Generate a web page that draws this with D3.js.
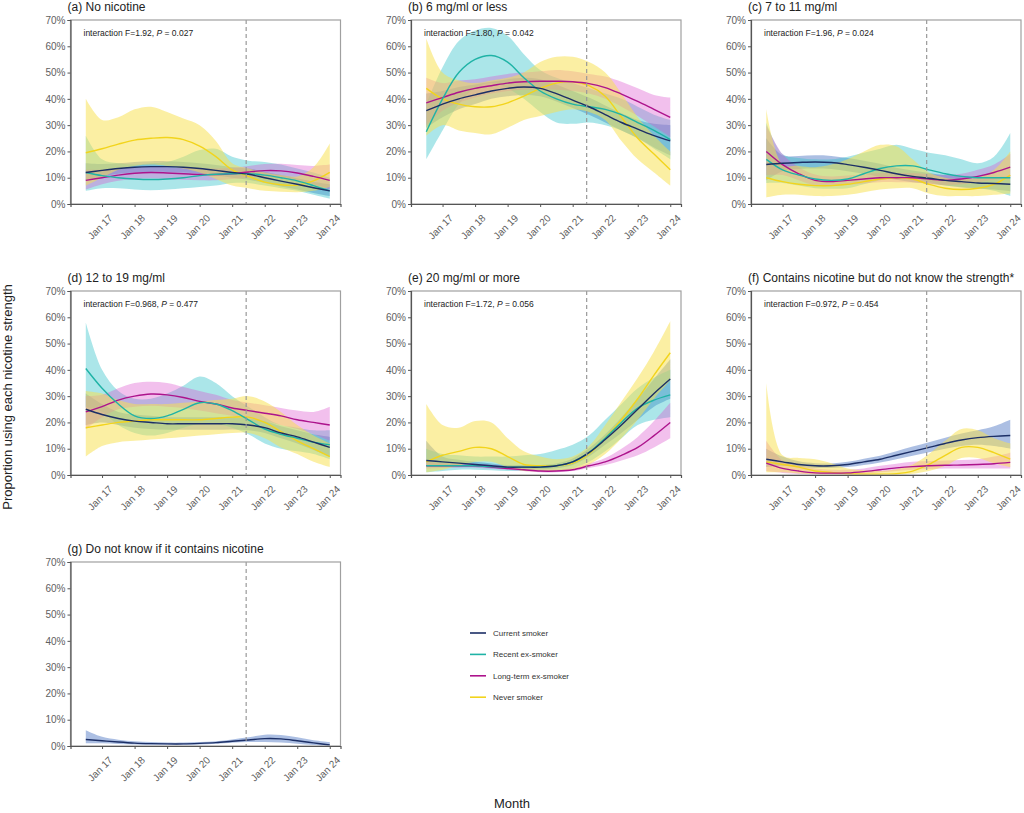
<!DOCTYPE html>
<html>
<head>
<meta charset="utf-8">
<script src="https://d3js.org/d3.v7.min.js"></script>
<style>
  body { margin: 0; background: #fff; }
  svg { display: block; font-family: "Liberation Sans", Arial, sans-serif; }
</style>
</head>
<body>
<div id="chart"></div>
<script>
// ---- data (proportions in %) ----
const months = [2016.5, 2017, 2017.5, 2018, 2018.5, 2019, 2019.5, 2020, 2020.5, 2021, 2021.5, 2022, 2022.5, 2023, 2023.5, 2024];
const tickYears = [2017, 2018, 2019, 2020, 2021, 2022, 2023, 2024];
const tickLabels = ['Jan 17', 'Jan 18', 'Jan 19', 'Jan 20', 'Jan 21', 'Jan 22', 'Jan 23', 'Jan 24'];
const yTicks = [0, 10, 20, 30, 40, 50, 60, 70];
const cutoff = 2021.43;

const groups = ['Current smoker', 'Recent ex-smoker', 'Long-term ex-smoker', 'Never smoker'];
const lineColors = ['#1c2f66', '#1fb3a6', '#ad138c', '#f2d41c'];
const bandColors = ['#3a67bd', '#2cc0c8', '#db4fcc', '#f8e04e'];
const bandAlpha = [0.42, 0.4, 0.36, 0.52];

const titles = ['(a) No nicotine', '(b) 6 mg/ml or less', '(c) 7 to 11 mg/ml', '(d) 12 to 19 mg/ml',
  '(e) 20 mg/ml or more', '(f) Contains nicotine but do not know the strength*', '(g) Do not know if it contains nicotine'];
const interactionF = ['1.92', '1.80', '1.96', '0.968', '1.72', '0.972', null];
const interactionP = ['0.027', '0.042', '0.024', '0.477', '0.056', '0.454', null];

// series order: current, recent, long-term, never (null = not shown)
const aMid = [
  [12, 12.8, 13.5, 14, 14.2, 14.2, 14, 13.5, 12.8, 12, 11.3, 10, 8.7, 7.5, 6.2, 5],
  [12, 10.8, 10, 9.5, 9.3, 9.5, 10, 10.8, 11.3, 11.5, 11.5, 11, 10, 8.8, 7, 5],
  [9, 10, 11, 11.7, 12, 11.8, 11.5, 11.2, 11.2, 11.5, 12.2, 12.7, 12.6, 11.8, 10.5, 9],
  [19.5, 21, 22.8, 24.3, 25, 25.3, 24.5, 22, 18, 13, 10.5, 8.3, 7.3, 7.2, 8.8, 12]];
const aLo = [
  [9, 10.5, 11.5, 12, 12.2, 12.2, 12, 11.5, 10.8, 10, 9.2, 8, 6.7, 5.5, 4.2, 3],
  [5, 6, 6, 5.5, 5.2, 5.5, 6, 6.5, 7, 8, 8, 7, 6, 5, 3.5, 2],
  [5.5, 7.5, 8.8, 9.5, 9.8, 9.5, 9.2, 9, 9, 9.5, 10, 10.3, 10, 9, 7.5, 5.5],
  [7, 10, 13, 14.5, 15, 14.5, 13.5, 12, 9.5, 7, 6, 5, 4.7, 4.5, 5, 6.5]];
const aHi = [
  [15.5, 15.2, 15.5, 16, 16.3, 16.3, 16, 15.5, 14.8, 14, 13.5, 12.3, 11, 9.8, 8.5, 7.5],
  [26, 17, 15.5, 15, 15.5, 16, 18, 20.5, 21, 18, 16.5, 16, 15, 13.5, 12, 10],
  [13, 13, 13.5, 14, 14.3, 14, 13.8, 13.5, 13.5, 13.8, 14.5, 15.2, 15.3, 14.8, 14.5, 15],
  [40, 32, 33, 36, 37, 35, 32.5, 30, 24, 15.5, 13.5, 12, 11, 10.5, 14, 23]];

const bMid = [
  [35.5, 38, 40, 41.5, 43, 44, 44.5, 44, 42, 39.5, 37, 34, 31, 28.5, 26, 24],
  [27.5, 40, 50, 55, 56.5, 54, 48, 43, 40, 38, 37, 36, 34, 31, 28, 24.5],
  [38.5, 40.5, 42.5, 44, 45, 46, 46.5, 46.7, 46.7, 46.5, 45.8, 44.3, 41.8, 39, 36, 33],
  [44, 40, 38, 37, 37, 38.5, 41, 44, 46, 46.5, 45, 41, 33, 25, 19, 13]];
const bLo = [
  [29, 33, 36, 38, 40, 41, 41.5, 41, 39, 36.5, 34, 31, 28, 25, 21.5, 18.5],
  [17, 28, 38, 44, 46, 44, 40, 35, 31, 30.5, 31, 30, 28, 25, 21, 17],
  [30, 35.5, 38.5, 40.5, 42, 43, 43.5, 43.5, 43.5, 43, 42, 40, 37, 33.5, 29.5, 25.5],
  [26, 30, 28, 27, 26.5, 29, 32, 33.5, 35, 36, 35, 32, 24, 17, 12, 7]];
const bHi = [
  [42, 43, 44.5, 45.5, 46.5, 47.5, 48, 47.5, 45.5, 43, 40.5, 37.5, 34.5, 32, 30.5, 30],
  [38, 52, 62, 66, 67, 64, 57, 51, 48, 46, 44, 42, 40, 37, 34, 32],
  [48, 46, 47, 47.5, 48.5, 49.5, 50, 50.5, 51, 50.5, 49.5, 48.5, 46.5, 44, 41.5, 40.5],
  [63, 50, 47, 46, 47, 48, 50, 54, 56, 56, 54, 50, 42, 33, 26, 20]];

const cMid = [
  [15, 15.5, 15.8, 16, 15.8, 15, 14, 12.8, 11.5, 10.5, 9.8, 9, 8.5, 8, 7.8, 7.5],
  [17, 13, 11, 9.5, 9, 9.5, 11.5, 13.5, 14.5, 14.5, 13, 11.5, 10.5, 10, 10, 10],
  [20, 15, 11.5, 9, 8.5, 9, 9.5, 10, 10, 10, 9.5, 9, 9.5, 10.5, 12, 14],
  [10, 8.5, 7.5, 7, 7, 7.5, 8.5, 9.5, 10, 9.5, 7.5, 6, 5.5, 6, 7.5, 11]];
const cLo = [
  [9, 12.5, 13.3, 13.5, 13.3, 12.5, 11.5, 10.3, 9.2, 8.3, 7.8, 7, 6.3, 5.8, 5.5, 4.8],
  [8, 8, 7, 6, 5.8, 6, 7.5, 9, 10, 10, 8.5, 7, 6.5, 6, 5, 3],
  [11, 11, 9, 7, 6.8, 7.3, 7.8, 8.3, 8.3, 8.2, 7.7, 7.2, 7.5, 8.2, 9.2, 10],
  [2.5, 3.5, 3.5, 3, 3, 3.5, 4.5, 5.5, 6, 6, 4, 3, 3, 3, 3.5, 4]];
const cHi = [
  [25, 18.5, 18.3, 18.5, 18.3, 17.5, 16.5, 15.3, 13.8, 12.7, 11.8, 11, 10.7, 10.5, 10.3, 10.5],
  [31, 19, 17.5, 17, 17, 18, 19.5, 21, 22.5, 21, 19.5, 18.5, 17, 15.5, 18, 27],
  [30, 19, 14, 11.2, 10.5, 10.8, 11.3, 11.8, 11.8, 11.8, 11.3, 11, 11.5, 13, 15, 19],
  [36, 15, 14.5, 14, 15, 17, 20, 22.5, 22, 17, 12, 10, 9.5, 10, 13, 20]];

const dMid = [
  [25, 23, 21.5, 20.5, 20, 19.5, 19.5, 19.5, 19.5, 19.5, 19, 18, 16, 14.5, 12.5, 10.5],
  [40.5, 33, 27, 22.5, 21.5, 22.5, 25, 27.5, 27, 24.5, 21, 17.5, 15.5, 14, 12.5, 11.5],
  [24, 26, 28.5, 30, 30.8, 30.5, 29.5, 28, 27, 25.5, 24.5, 23.5, 22.5, 21, 20, 19],
  [18, 19, 20, 20.5, 21, 21, 21, 21, 21.5, 22, 22, 20, 16.5, 13, 10, 7]];
const dLo = [
  [19, 20, 19, 18, 17.5, 17.2, 17.2, 17.2, 17.2, 17.3, 17, 16, 14, 12, 9.5, 7],
  [26, 24, 19, 16, 15, 16, 18, 19.5, 19.5, 18, 15.5, 12, 10, 9, 8, 6],
  [17.5, 22, 25, 26, 26.3, 26, 25.5, 24.5, 23.5, 22.5, 21.5, 20.5, 19, 17.5, 15.5, 13],
  [7, 11, 12.5, 13, 13.5, 14, 14.5, 15, 15.5, 16, 16, 14, 10.5, 8, 5, 3]];
const dHi = [
  [31, 27, 24, 23, 22.5, 22, 22, 22, 22, 22, 21.5, 20.5, 18.5, 17, 15.5, 14.5],
  [58, 40, 32, 29, 29, 31, 34, 37.5, 35, 30, 26, 22, 19, 18, 17, 17],
  [30, 30.5, 33, 35, 35.5, 35, 33.5, 32, 30.5, 28.5, 27.5, 26.5, 25.5, 24.5, 24, 26],
  [32, 31, 28.5, 27, 27, 27, 27.5, 28, 28.5, 29, 30, 28, 24, 19, 15, 12]];

const eMid = [
  [5.5, 5, 4.5, 4, 3.5, 3, 3, 3, 3.5, 5, 8.5, 13.5, 19, 25, 31, 36.5],
  [3.5, 3.5, 3.5, 3.5, 3.2, 3, 3, 3, 3.5, 5, 8.5, 14, 20, 25.5, 28.5, 30.5],
  [3.5, 3.5, 3.5, 3.5, 3, 2.5, 2, 1.5, 1.5, 2, 3.5, 5, 7.5, 10.5, 15, 20],
  [5, 7.5, 9, 10.5, 10, 7, 4, 3.5, 3.5, 4.5, 8, 14, 21, 29, 38, 46.5]];
const eLo = [
  [3.5, 3.5, 3.3, 3, 2.6, 2.2, 2.2, 2.2, 2.6, 3.8, 7, 11.5, 16, 21, 26, 29],
  [1, 1.5, 2, 2, 1.8, 1.5, 1.5, 1.5, 1.8, 2.5, 5, 9, 14, 19, 21, 22],
  [2.5, 2.7, 2.8, 2.8, 2.4, 2, 1.5, 1, 1, 1.5, 2.7, 3.8, 5.5, 7.5, 10.5, 14],
  [1, 2, 3.5, 5, 5, 3, 1.5, 1.5, 1.5, 2, 4, 8, 14, 21, 29, 36]];
const eHi = [
  [13, 7, 5.8, 5, 4.4, 3.8, 3.8, 3.8, 4.4, 6.3, 10.2, 15.5, 22, 29, 36.5, 44],
  [10, 8, 7.5, 7, 7, 7, 7.5, 8, 9.5, 11.5, 15, 21, 27, 33, 37, 40],
  [5, 4.5, 4.3, 4.3, 3.8, 3.2, 2.6, 2.1, 2.1, 2.6, 4.4, 6.5, 10, 14.5, 20.5, 27.5],
  [27, 19, 18, 20.5, 20, 14, 9, 7, 6, 7, 11, 19, 28, 37, 47, 58.5]];

const fMid = [
  [6, 5, 4, 3.5, 3.5, 4, 5, 6, 7.5, 9, 10.5, 12, 13.3, 14.2, 14.7, 15],
  null,
  [4.5, 2.5, 1.5, 0.8, 0.7, 0.8, 1.3, 2, 2.7, 3.2, 3.5, 3.7, 3.8, 4, 4.3, 4.8],
  [5, 4, 3, 1.5, 1, 0.5, 0.3, 0.3, 0.5, 1.5, 4, 7.5, 10.5, 10.5, 8.5, 6]];
const fLo = [
  [3, 3.5, 3, 2.7, 2.7, 3, 3.8, 4.8, 6, 7.3, 8.7, 10, 11, 11.5, 11, 10],
  null,
  [1.5, 0.8, 0.4, 0.2, 0.2, 0.2, 0.5, 1, 1.5, 2, 2.3, 2.5, 2.5, 2.5, 2.5, 2.5],
  [1, 1, 0.6, 0.3, 0.2, 0.1, 0.1, 0.1, 0.1, 0.5, 1.5, 3.5, 6.5, 6.5, 4.5, 3]];
const fHi = [
  [10, 7, 5.2, 4.5, 4.4, 5, 6.2, 7.3, 9, 10.8, 12.5, 14.2, 15.8, 17, 18.5, 21],
  null,
  [13, 5.5, 3.5, 2.5, 2, 2, 2.5, 3.5, 4.3, 5, 5.3, 5.5, 5.7, 6, 7, 8.5],
  [35, 7.5, 6.5, 6, 4.5, 2.5, 1.8, 1.5, 2.2, 4, 8, 13, 17.5, 17, 14, 12]];

const gMid = [[2.5, 2, 1.5, 1.1, 0.9, 0.8, 0.8, 1, 1.3, 1.8, 2.3, 2.8, 2.7, 2, 1.2, 0.4], null, null, null];
const gLo = [[1, 1, 0.8, 0.6, 0.5, 0.5, 0.5, 0.6, 0.9, 1.2, 1.5, 1.5, 1.3, 0.9, 0.4, 0], null, null, null];
const gHi = [[6, 3.5, 2.4, 1.8, 1.5, 1.3, 1.3, 1.5, 1.8, 2.5, 3.3, 4.3, 4.2, 3.3, 2.2, 1.5], null, null, null];

// ---- layout ----
const W = 1024, H = 813;
const colX = [70.5, 411, 751];
const rowY = [20, 291, 562];
const pw = 270, ph = 184;

const panels = [
  { mid: aMid, lo: aLo, hi: aHi }, { mid: bMid, lo: bLo, hi: bHi }, { mid: cMid, lo: cLo, hi: cHi },
  { mid: dMid, lo: dLo, hi: dHi }, { mid: eMid, lo: eLo, hi: eHi }, { mid: fMid, lo: fLo, hi: fHi },
  { mid: gMid, lo: gLo, hi: gHi }
];

const svg = d3.select('#chart').append('svg')
  .attr('width', W).attr('height', H).attr('viewBox', `0 0 ${W} ${H}`);

const x = d3.scaleLinear().domain([2016.03, 2024.33]).range([0, pw]);
const y = d3.scaleLinear().domain([0, 70]).range([ph, 0]);

const curve = d3.curveCatmullRom.alpha(0.5);

panels.forEach((p, i) => {
  const left = colX[i % 3], top = rowY[Math.floor(i / 3)];
  const g = svg.append('g').attr('transform', `translate(${left},${top})`);

  // clip so the bands stay inside the frame
  g.append('clipPath').attr('id', 'clip' + i)
    .append('rect').attr('width', pw).attr('height', ph);

  const plot = g.append('g').attr('clip-path', `url(#clip${i})`);

  // ribbons first
  p.mid.forEach((m, s) => {
    if (!m) return;
    const rows = months.map((t, k) => ({ t, lo: p.lo[s][k], hi: p.hi[s][k] }));
    const area = d3.area()
      .x(d => x(d.t)).y0(d => y(d.lo)).y1(d => y(d.hi))
      .curve(curve);
    plot.append('path')
      .attr('d', area(rows))
      .attr('fill', bandColors[s])
      .attr('fill-opacity', bandAlpha[s]);
  });

  // then lines
  [3, 2, 1, 0].forEach(s => {
    const m = p.mid[s];
    if (!m) return;
    const line = d3.line().x((d, k) => x(months[k])).y(d => y(d)).curve(curve);
    plot.append('path')
      .attr('d', line(m))
      .attr('fill', 'none')
      .attr('stroke', lineColors[s])
      .attr('stroke-width', 1.4);
  });

  // cut-off line
  g.append('line')
    .attr('x1', x(cutoff)).attr('x2', x(cutoff))
    .attr('y1', 0).attr('y2', ph)
    .attr('stroke', '#9a9a9a').attr('stroke-width', 1.2)
    .attr('stroke-dasharray', '4,3');

  // frame
  g.append('rect')
    .attr('width', pw).attr('height', ph)
    .attr('fill', 'none').attr('stroke', '#a0a0a0').attr('stroke-width', 1.2);

  // axes
  const yAxis = d3.axisLeft(y).tickValues(yTicks).tickSize(3).tickPadding(2).tickFormat(d => d + '%');
  const gy = g.append('g').call(yAxis);
  const xAxis = d3.axisBottom(x).tickValues(tickYears).tickSize(3).tickFormat((d, k) => tickLabels[k]);
  const gx = g.append('g').attr('transform', `translate(0,${ph})`).call(xAxis);

  [gy, gx].forEach(a => {
    a.select('.domain').attr('stroke', '#555').attr('stroke-width', 1.2);
    a.selectAll('.tick line').attr('stroke', '#555');
    a.selectAll('.tick text')
      .attr('fill', '#606060')
      .style('font-size', '10px')
      .style('font-family', '"Liberation Sans", Arial, sans-serif');
  });
  gx.selectAll('.tick text')
    .attr('text-anchor', 'end')
    .attr('dy', '0.35em')
    .attr('transform', 'translate(4,8) rotate(-45)');

  // title
  svg.append('text')
    .attr('x', left - 3).attr('y', top - 9)
    .style('font-size', '12px').attr('fill', '#222')
    .text(titles[i]);

  // interaction test
  if (interactionF[i]) {
    const t = g.append('text')
      .attr('x', 13).attr('y', 16)
      .style('font-size', '8.5px').attr('fill', '#222');
    t.append('tspan').text(`interaction F=${interactionF[i]}, `);
    t.append('tspan').style('font-style', 'italic').text('P');
    t.append('tspan').text(` = ${interactionP[i]}`);
  }
});

// axis titles
svg.append('text')
  .attr('transform', 'translate(12,397) rotate(-90)')
  .attr('text-anchor', 'middle')
  .style('font-size', '13px').attr('fill', '#222')
  .text('Proportion using each nicotine strength');

svg.append('text')
  .attr('x', 512).attr('y', 808)
  .attr('text-anchor', 'middle')
  .style('font-size', '13px').attr('fill', '#222')
  .text('Month');

// legend
const legend = svg.append('g').attr('transform', 'translate(470,633)');
groups.forEach((name, s) => {
  const row = legend.append('g').attr('transform', `translate(0,${s * 21.4})`);
  row.append('line')
    .attr('x1', 0).attr('x2', 16).attr('y1', 0).attr('y2', 0)
    .attr('stroke', lineColors[s]).attr('stroke-width', 1.6);
  row.append('text')
    .attr('x', 23).attr('y', 0).attr('dy', '0.35em')
    .style('font-size', '8px').attr('fill', '#333')
    .text(name);
});
</script>
</body>
</html>
